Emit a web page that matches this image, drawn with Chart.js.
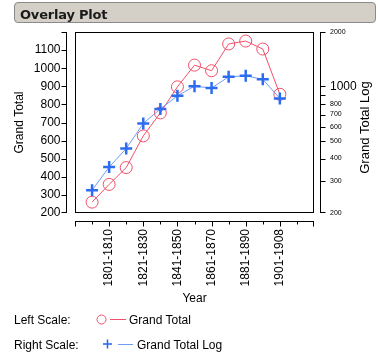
<!DOCTYPE html>
<html>
<head>
<meta charset="utf-8">
<script src="https://cdn.jsdelivr.net/npm/chart.js@4/dist/chart.umd.min.js"></script>
<style>
  html, body { margin: 0; padding: 0; background: #fff; }
  #wrap { position: relative; width: 378px; height: 364px; overflow: hidden; }
  #c { position: absolute; left: 0; top: 0; }
  .titlebox { position: absolute; left: 14px; top: 2px; width: 360px; height: 19px;
    background: #d4d0c8; border: 1px solid #8a8a8a; border-radius: 4px; }
  .title { position: absolute; left: 20px; top: 7px; line-height: 15px;
    font: bold 13px "DejaVu Sans", sans-serif; color: #1a1a1a; white-space: nowrap; letter-spacing: -0.2px; }
  .lg { position: absolute; font: 12px "Liberation Sans", Arial, sans-serif; line-height: 14px; color: #000; white-space: nowrap; }
  svg.mk { position: absolute; left: 0; top: 0; }
</style>
</head>
<body>
<div id="wrap">
  <canvas id="c" width="378" height="364"></canvas>
  <div class="titlebox"></div>
  <div class="title">Overlay Plot</div>
  <div class="lg" style="left:14px; top:313px;">Left Scale:</div>
  <div class="lg" style="left:129px; top:313px;">Grand Total</div>
  <div class="lg" style="left:14px; top:338px;">Right Scale:</div>
  <div class="lg" style="left:137px; top:338px;">Grand Total Log</div>
  <svg class="mk" width="378" height="364">
    <circle cx="101.5" cy="319.5" r="4.5" fill="none" stroke="#f0506a" stroke-width="1"/>
    <line x1="110" y1="319.5" x2="126" y2="319.5" stroke="#f0506a" stroke-width="1"/>
    <line x1="103" y1="344" x2="112" y2="344" stroke="#2d6cf0" stroke-width="1.6"/>
    <line x1="107.5" y1="339.5" x2="107.5" y2="348.5" stroke="#2d6cf0" stroke-width="1.6"/>
    <line x1="118" y1="344.5" x2="133" y2="344.5" stroke="#6f9cf5" stroke-width="1"/>
  </svg>
</div>
<script>
// ---- data ----
const categories = ['1791-1800','1801-1810','1811-1820','1821-1830','1831-1840','1841-1850',
                    '1851-1860','1861-1870','1871-1880','1881-1890','1891-1900','1901-1908'];
const grandTotal    = [260, 358, 451, 626, 753, 897, 1017, 986, 1134, 1150, 1106, 856];
const grandTotalLog = [267, 359, 454, 625, 752, 888, 1004, 980, 1131, 1146, 1095, 859];
const leftTicks  = [200, 300, 400, 500, 600, 700, 800, 900, 1000, 1100, 1200];
const rightTicks = [200, 300, 400, 500, 600, 700, 800, 900, 1000, 2000];
const labeledXTicks = [2, 4, 6, 8, 10, 12];
const rightTitle = 'Grand Total Log';

const RED = '#f0506a', BLUE = '#2d6cf0', BLUE_LINE = '#6f9cf5';
const FONT = 'Liberation Sans';

const ptsTotal = categories.map((c, i) => ({ x: i + 1, y: grandTotal[i] }));
const ptsLog   = categories.map((c, i) => ({ x: i + 1, y: grandTotalLog[i] }));

const offsetAxes = {
  id: 'offsetAxes',
  beforeDatasetsDraw(chart) {
    const { ctx, chartArea: a, scales } = chart;
    ctx.save();
    ctx.strokeStyle = '#000';
    ctx.lineWidth = 1;
    // plot frame
    ctx.strokeRect(a.left + 0.5, a.top + 0.5, a.right - a.left - 1, a.bottom - a.top - 1);
    // left axis
    const lx = a.left - 8.5;
    ctx.beginPath();
    ctx.moveTo(lx, a.top); ctx.lineTo(lx, a.bottom);
    scales.y.ticks.forEach(t => {
      const yy = Math.min(Math.round(scales.y.getPixelForValue(t.value)), a.bottom - 1) + 0.5;
      ctx.moveTo(lx - 5, yy); ctx.lineTo(lx + 0.5, yy);
    });
    // right axis
    const rx = a.right + 6.5;
    ctx.moveTo(rx, a.top); ctx.lineTo(rx, a.bottom);
    scales.y2.ticks.forEach(t => {
      const yy = Math.min(Math.round(scales.y2.getPixelForValue(t.value)), a.bottom - 1) + 0.5;
      ctx.moveTo(rx - 0.5, yy); ctx.lineTo(rx + 5, yy);
    });
    // bottom axis
    const by = a.bottom + 8.5;
    ctx.moveTo(a.left, by); ctx.lineTo(a.right, by);
    scales.x.ticks.forEach(t => {
      const xx = Math.min(Math.round(scales.x.getPixelForValue(t.value)), a.right - 1) + 0.5;
      const len = (t.value % 2 === 0) ? 5 : 3;
      ctx.moveTo(xx, by - 0.5); ctx.lineTo(xx, by + len);
    });
    ctx.stroke();
    // right axis title, reading bottom-to-top
    const s2 = scales.y2;
    ctx.translate(s2.right - 12.3, (a.top + a.bottom) / 2 + 5);
    ctx.rotate(-Math.PI / 2);
    ctx.fillStyle = '#000';
    ctx.font = '13px "' + FONT + '"';
    ctx.textAlign = 'center';
    ctx.textBaseline = 'middle';
    ctx.fillText(rightTitle, 0, 0);
    ctx.restore();
  }
};

new Chart(document.getElementById('c'), {
  type: 'line',
  data: {
    datasets: [
      {
        label: 'Grand Total Log', data: ptsLog, yAxisID: 'y2',
        borderColor: BLUE_LINE, borderWidth: 1, tension: 0,
        pointStyle: 'cross', pointRadius: 6, pointHoverRadius: 6,
        pointBorderColor: BLUE, pointBorderWidth: 2.5, pointBackgroundColor: BLUE,
        clip: false
      },
      {
        label: 'Grand Total', data: ptsTotal, yAxisID: 'y',
        borderColor: RED, borderWidth: 1, tension: 0,
        pointStyle: 'circle', pointRadius: 6, pointHoverRadius: 6,
        pointBorderColor: RED, pointBorderWidth: 1, pointBackgroundColor: 'rgba(0,0,0,0)',
        clip: false
      }
    ]
  },
  options: {
    responsive: false, animation: false, devicePixelRatio: 1,
    layout: { padding: { left: 0, right: 0, top: 32, bottom: 0 } },
    plugins: { legend: { display: false }, tooltip: { enabled: false }, title: { display: false } },
    scales: {
      x: {
        type: 'linear', min: 0, max: 14, position: 'bottom',
        afterFit: s => { s.height = 151; },
        afterBuildTicks: s => { s.ticks = Array.from({ length: 15 }, (_, i) => ({ value: i })); },
        border: { display: false },
        grid: { drawOnChartArea: false, drawTicks: true, tickLength: 13, tickColor: 'rgba(0,0,0,0)' },
        ticks: {
          autoSkip: false, minRotation: 90, maxRotation: 90, padding: 3, color: '#000',
          font: { family: FONT, size: 12 },
          callback: v => labeledXTicks.includes(v) ? categories[v - 1] : ''
        },
        title: { display: true, text: 'Year', color: '#000', font: { family: FONT, size: 12 }, padding: { top: 0, bottom: 58 } }
      },
      y: {
        type: 'linear', position: 'left', min: 200, max: 1200,
        afterFit: s => { s.width = 75; },
        afterBuildTicks: s => { s.ticks = leftTicks.map(v => ({ value: v })); },
        border: { display: false },
        grid: { drawOnChartArea: false, drawTicks: true, tickLength: 13, tickColor: 'rgba(0,0,0,0)' },
        ticks: {
          padding: 1.5, color: '#000', font: { family: FONT, size: 12 },
          callback: v => v === 1200 ? '' : String(v)
        },
        title: { display: true, text: 'Grand Total', color: '#000', font: { family: FONT, size: 12 }, padding: { top: 12.8, bottom: 0 } }
      },
      y2: {
        type: 'logarithmic', position: 'right', min: 200, max: 2000,
        afterFit: s => { s.width = 64; },
        afterBuildTicks: s => { s.ticks = rightTicks.map(v => ({ value: v })); },
        border: { display: false },
        grid: { drawOnChartArea: false, drawTicks: true, tickLength: 11, tickColor: 'rgba(0,0,0,0)' },
        ticks: {
          padding: 5, color: '#000',
          font: c => ({ family: FONT, size: (c.tick && c.tick.value === 1000) ? 12 : 7 }),
          callback: v => v === 900 ? '' : String(v)
        },
        title: { display: false }
      }
    }
  },
  plugins: [offsetAxes]
});
</script>
</body>
</html>
